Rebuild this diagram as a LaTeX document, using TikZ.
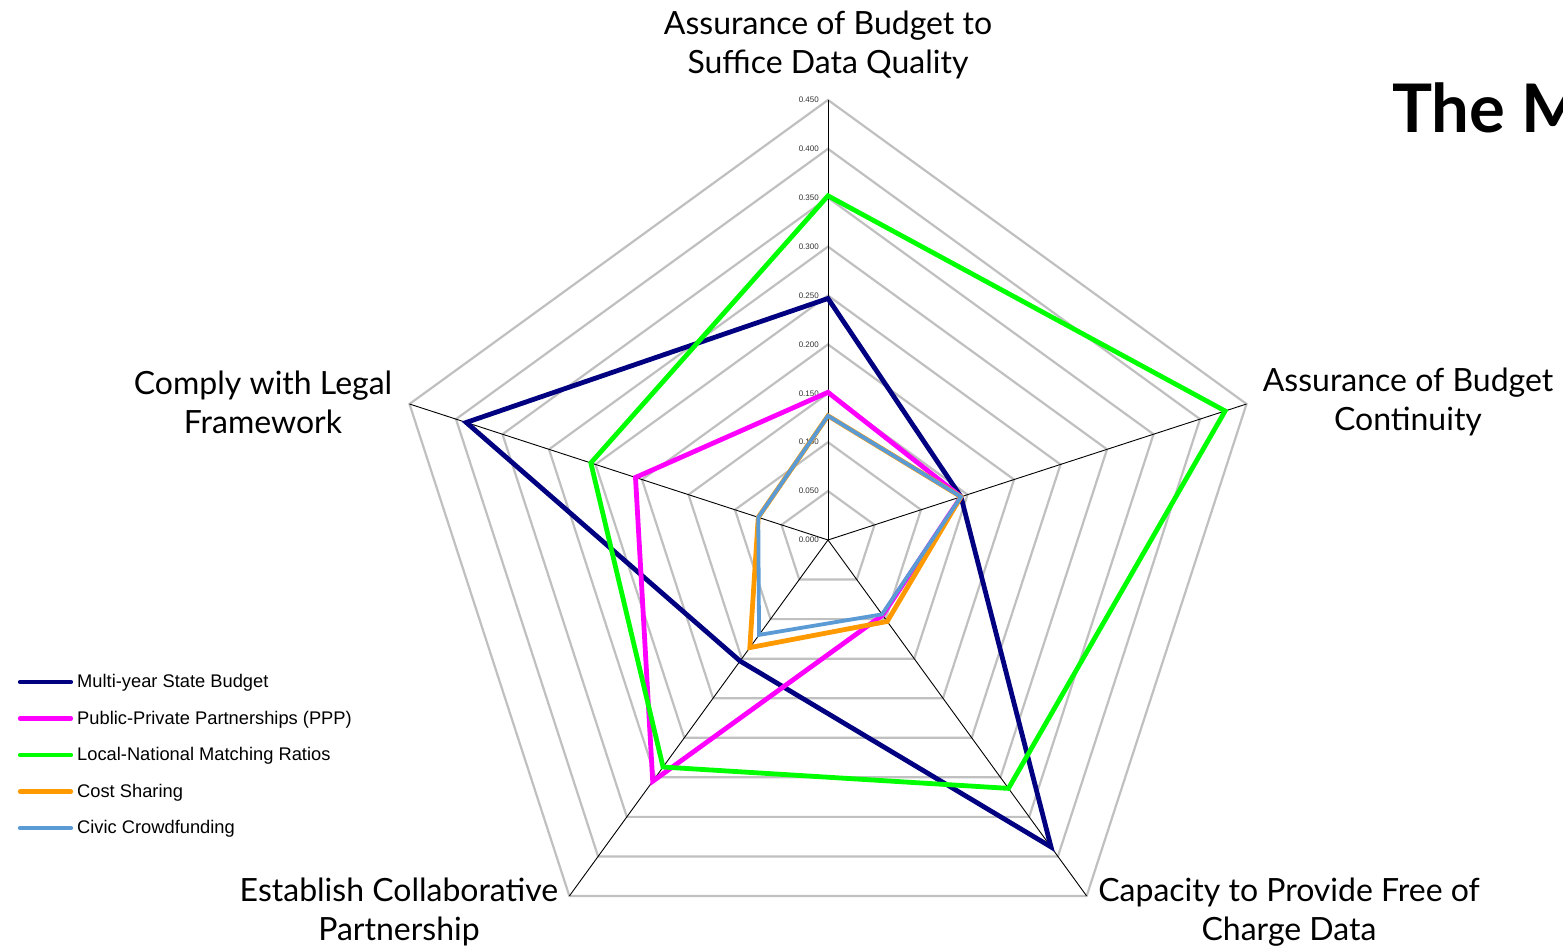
\documentclass[tikz,border=0pt]{standalone}
\usepackage{fontspec}
\setmainfont{Lato}
\newfontfamily\arialf{Liberation Sans}
\definecolor{cnavy}{HTML}{000080}
\definecolor{cmag}{HTML}{FF00FF}
\definecolor{cgreen}{HTML}{00FF00}
\definecolor{corange}{HTML}{FF9900}
\definecolor{cblue}{HTML}{5B9BD5}
\definecolor{cgrid}{HTML}{C0C0C0}
\definecolor{ctick}{HTML}{333333}
\tikzset{
  gridline/.style={draw=cgrid,line width=2.2},
  axisline/.style={draw=black,line width=0.9},
  serie/.style={line width=4.8,line join=miter},
  axlabel/.style={font=\fontsize{32}{39}\selectfont,align=center,inner sep=0},
  ticklabel/.style={font=\arialf\fontsize{8}{9}\selectfont,text=ctick,anchor=east,inner sep=0},
  legtext/.style={font=\arialf\fontsize{18.3}{20}\selectfont,anchor=west,inner sep=0},
  legline/.style={line width=4.2,line cap=round}
}
\begin{document}
\begin{tikzpicture}[x=1pt,y=1pt]
\useasboundingbox (0,0) rectangle (1563,945);
\clip (0,0) rectangle (1563,945);
\fill[white] (0,0) rectangle (1563,945);
\def\k{977.8}
\begin{scope}[shift={(828,405)}]
  % grid
  \foreach \v in {0.05,0.10,...,0.46} {
    \draw[gridline] (90:{\v*\k}) -- (18:{\v*\k}) -- (-54:{\v*\k}) -- (-126:{\v*\k}) -- (162:{\v*\k}) -- cycle;
  }
  % axes
  \coordinate (c) at (0,0);
  \coordinate (a1) at (90:440);
  \coordinate (a2) at (18:440);
  \coordinate (a3) at (-54:440);
  \coordinate (a4) at (-126:440);
  \coordinate (a5) at (162:440);
  \foreach \a in {a1,a2,a3,a4,a5} \draw[axisline] (c) -- (\a);
  % tick labels
  \foreach \v/\t in {0/0.000,1/0.050,2/0.100,3/0.150,4/0.200,5/0.250,6/0.300,7/0.350,8/0.400,9/0.450}
    \node[ticklabel] (t\v) at (-9,{\v*0.05*\k}) {\t};
  % series
  \draw[serie,cnavy] (90:{0.247*\k}) -- (18:{0.143*\k}) -- (-54:{0.388*\k}) -- (-126:{0.153*\k}) -- (162:{0.389*\k}) -- cycle;
  \draw[serie,cmag] (90:{0.151*\k}) -- (18:{0.143*\k}) -- (-54:{0.095*\k}) -- (-126:{0.305*\k}) -- (162:{0.207*\k}) -- cycle;
  \draw[serie,cgreen] (90:{0.352*\k}) -- (18:{0.427*\k}) -- (-54:{0.314*\k}) -- (-126:{0.287*\k}) -- (162:{0.255*\k}) -- cycle;
  \draw[serie,corange] (90:{0.127*\k}) -- (18:{0.143*\k}) -- (-54:{0.103*\k}) -- (-126:{0.136*\k}) -- (162:{0.075*\k}) -- cycle;
  \draw[serie,cblue,line width=3.8] (90:{0.127*\k}) -- (18:{0.143*\k}) -- (-54:{0.094*\k}) -- (-126:{0.120*\k}) -- (162:{0.075*\k}) -- cycle;
\end{scope}
% axis labels
\node[axlabel] (l1) at (828,900) {Assurance of Budget to\\Suffice Data Quality};
\node[axlabel] (l2) at (1408,543) {Assurance of Budget\\Continuity};
\node[axlabel] (l3) at (1289,33) {Capacity to Provide Free of\\Charge Data};
\node[axlabel] (l4) at (399,33) {Establish Collaborative\\Partnership};
\node[axlabel] (l5) at (263,543) {Comply with Legal\\Framework};
% title
\node[font=\fontsize{67}{80}\selectfont\bfseries,anchor=base west,inner sep=0] (title) at (1392,812) {The M};
% legend
\foreach \i/\c/\t in {0/cnavy/{Multi-year State Budget},1/cmag/{Public-Private Partnerships (PPP)},2/cgreen/{Local-National Matching Ratios},3/corange/{Cost Sharing},4/cblue/{Civic Crowdfunding}} {
  \coordinate (ls\i) at (20,{263-\i*36.5});
  \coordinate (le\i) at (71,{263-\i*36.5});
  \draw[legline,\c] (ls\i) -- (le\i);
  \node[legtext] (lt\i) at (77,{262-\i*36.5}) {\t};
}
\end{tikzpicture}
\end{document}
